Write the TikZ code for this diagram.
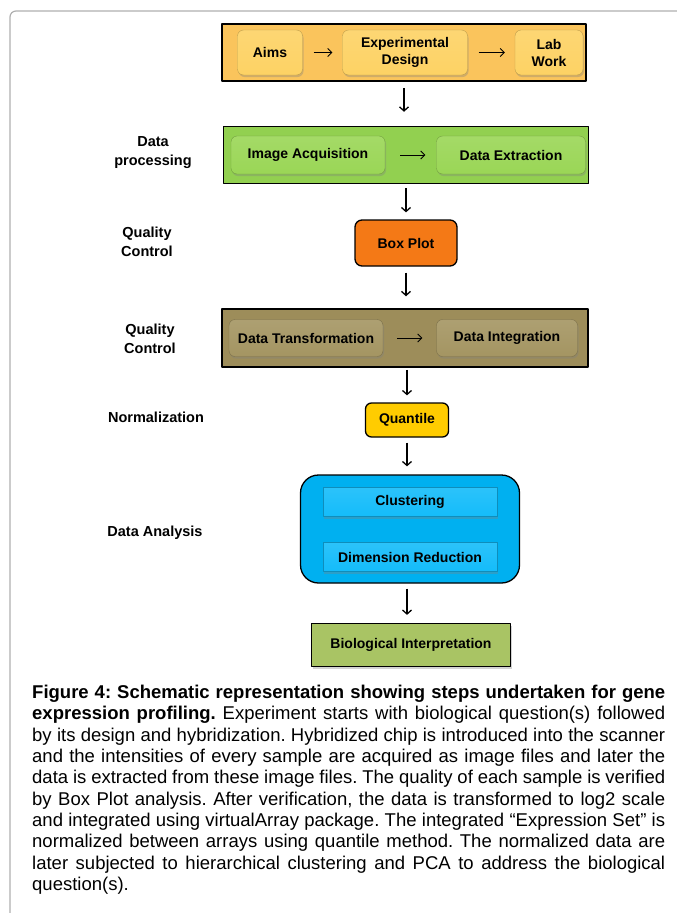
\documentclass[tikz,border=0pt]{standalone}
\usepackage{fontspec}
\setmainfont{Liberation Sans}
\usepackage{xcolor}
\usetikzlibrary{arrows.meta,shadows}
\definecolor{aimsout}{RGB}{250,196,92}
\definecolor{aimsin}{RGB}{253,210,100}
\definecolor{procout}{RGB}{146,208,80}
\definecolor{procin}{RGB}{154,214,86}
\definecolor{plotfill}{RGB}{244,121,22}
\definecolor{transout}{RGB}{157,141,90}
\definecolor{transin}{RGB}{164,149,98}
\definecolor{quantfill}{RGB}{255,204,0}
\definecolor{anaout}{RGB}{0,176,240}
\definecolor{anain}{RGB}{20,188,250}
\definecolor{biofill}{RGB}{169,196,100}
\definecolor{pageline}{RGB}{175,175,175}

\begin{document}
\begin{tikzpicture}[x=1pt, y=-1pt, line join=round,
  band/.style={draw=black, line width=1.5pt, inner sep=0pt},
  inbox/.style={rounded corners=6pt, draw=#1!75!black, line width=0.4pt,
    top color=#1!90!white, bottom color=#1, inner sep=0pt, align=center,
    font=\bfseries\fontsize{14}{17}\selectfont,
    drop shadow={shadow xshift=1pt, shadow yshift=-2pt, opacity=0.35}},
  single/.style={draw=black, line width=1.3pt, inner sep=0pt, align=center,
    font=\bfseries\fontsize{14}{17}\selectfont},
  side/.style={align=center, font=\bfseries\fontsize{14.5}{19}\selectfont},
  flow/.style={line width=1.3pt, -{Straight Barb[length=4pt,width=9pt]},
    shorten <=5pt, shorten >=8pt},
  hop/.style={line width=0.9pt, -{Straight Barb[length=4pt,width=8pt]},
    shorten <=11pt, shorten >=10pt}]
\useasboundingbox (0,0) rectangle (677,913);
\draw[pageline, line width=1.2pt, rounded corners=6pt] (677,11) -- (10,11) -- (10,913);

\node[band, fill=aimsout, minimum width=364pt, minimum height=57pt] (design) at (404,52.5) {};
\node[inbox=aimsin, minimum width=65pt, minimum height=45pt] (aims) at (270,52.5) {Aims};
\node[inbox=aimsin, minimum width=125pt, minimum height=45pt] (expdesign) at (405,52.5) {Experimental\\Design};
\node[inbox=aimsin, minimum width=68pt, minimum height=45pt] (labwork) at (549,52.5) {Lab\\Work};

\node[band, fill=procout, minimum width=365pt, minimum height=57pt] (processing) at (406,155) {};
\node[inbox=procin, minimum width=154pt, minimum height=38pt] (acquisition) at (308,155) {Image Acquisition};
\node[inbox=procin, minimum width=149pt, minimum height=38pt] (extraction) at (511,155) {Data Extraction};

\node[single, fill=plotfill, rounded corners=7pt, minimum width=102pt, minimum height=46pt] (boxplot) at (406,243) {Box Plot};

\node[band, fill=transout, minimum width=366pt, minimum height=58pt] (transform) at (405,338) {};
\node[inbox=transin, minimum width=154pt, minimum height=37pt] (datatrans) at (306,338) {Data Transformation};
\node[inbox=transin, minimum width=141pt, minimum height=37pt] (dataint) at (507,338) {Data Integration};

\node[single, fill=quantfill, rounded corners=6pt, minimum width=83pt, minimum height=34pt] (quantile) at (407,420) {Quantile};

\node[single, fill=anaout, rounded corners=18pt, minimum width=219pt, minimum height=108pt] (analysis) at (410,529) {};
\node[inbox=anain, rounded corners=0pt, minimum width=174pt, minimum height=29pt] (clustering) at (410,502) {Clustering};
\node[inbox=anain, rounded corners=0pt, minimum width=174pt, minimum height=29pt] (dimred) at (410,557) {Dimension Reduction};

\node[single, fill=biofill, minimum width=199pt, minimum height=43pt,
  drop shadow={shadow xshift=1pt, shadow yshift=-2pt, opacity=0.35}] (interpret) at (411,645) {Biological Interpretation};

\node[side] (lblproc) at (153,153) {Data\\processing};
\node[side] (lblqc) at (147,242) {Quality\\Control};
\node[side] (lblqc2) at (150,339) {Quality\\Control};
\node[side] (lblnorm) at (156,417) {Normalization};
\node[side] (lblana) at (155,533) {Data Analysis};

\draw[hop] (aims) -- (expdesign);
\draw[hop] (expdesign) -- (labwork);
\draw[hop, shorten <=15pt, shorten >=11pt] (acquisition) -- (extraction);
\draw[hop, shorten <=14pt, shorten >=14pt] (datatrans) -- (dataint);

\draw[flow, shorten <=6pt, shorten >=14pt] (design) -- (design|-processing.north);
\draw[flow, shorten <=4pt, shorten >=7pt] (processing.south-|boxplot) -- (boxplot);
\draw[flow, shorten <=6pt, shorten >=12pt] (boxplot) -- (boxplot|-transform.north);
\draw[flow, shorten <=2pt, shorten >=7pt] (transform.south-|quantile) -- (quantile);
\draw[flow] (quantile) -- (quantile|-analysis.north);
\draw[flow] (analysis.south-|quantile) -- (quantile|-interpret.north);

\node[anchor=north west, inner sep=0pt, text width=633pt, align=justify,
  font=\fontsize{18.5}{21.3}\selectfont\frenchspacing] (caption) at (32,685)
  {\textbf{Figure 4: Schematic representation showing steps undertaken for gene\linebreak
  expression profiling.} Experiment starts with biological question(s) followed\linebreak
  by its design and hybridization. Hybridized chip is introduced into the scanner\linebreak
  and the intensities of every sample are acquired as image files and later the\linebreak
  data is extracted from these image files. The quality of each sample is verified\linebreak
  by Box Plot analysis. After verification, the data is transformed to log2 scale\linebreak
  and integrated using virtualArray package. The integrated “Expression Set” is\linebreak
  normalized between arrays using quantile method. The normalized data are\linebreak
  later subjected to hierarchical clustering and PCA to address the biological\linebreak
  question(s).};
\end{tikzpicture}
\end{document}
